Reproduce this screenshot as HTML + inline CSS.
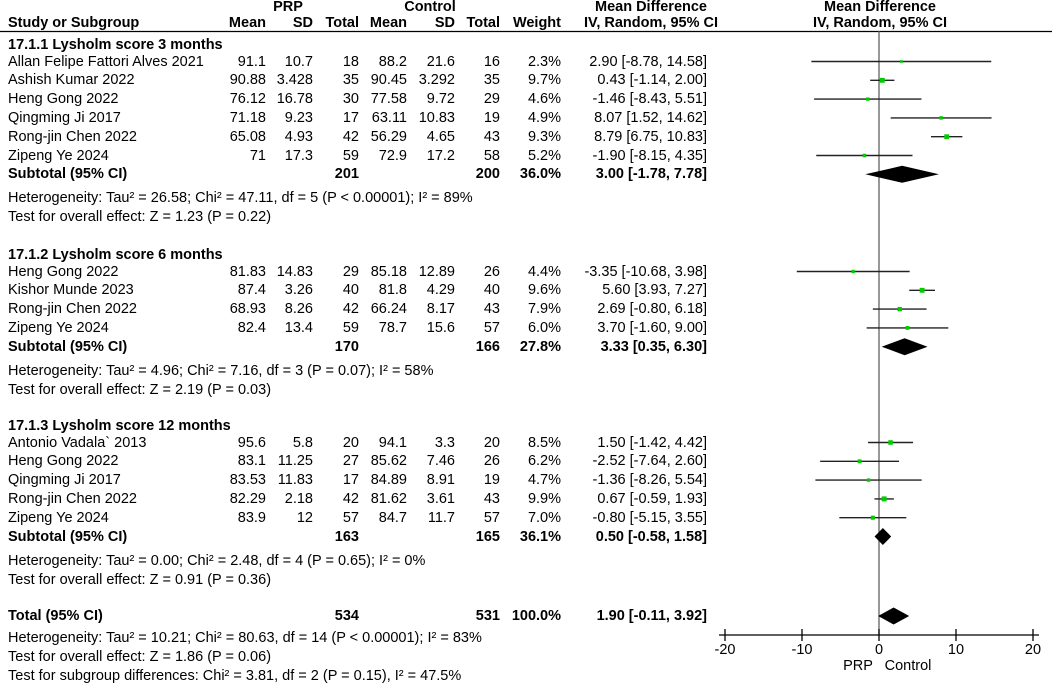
<!DOCTYPE html>
<html><head><meta charset="utf-8"><style>
body{margin:0;width:1052px;height:686px;background:#fff;overflow:hidden;font-family:"Liberation Sans",Arial,sans-serif;font-size:14.5px;color:#000}
#root{position:relative;width:1052px;height:686px}
.t{position:absolute;white-space:nowrap;line-height:16px}
.r{text-align:right}.c{text-align:center}.b{font-weight:bold}
svg{position:absolute;left:0;top:0}
</style></head><body>
<div id="root">
<svg id="plot" width="1052" height="686"></svg>
</div>
<script>
// ---- data ----
const studies=["Allan Felipe Fattori Alves 2021","Ashish Kumar 2022","Heng Gong 2022","Qingming Ji 2017","Rong-jin Chen 2022","Zipeng Ye 2024",
"Heng Gong 2022","Kishor Munde 2023","Rong-jin Chen 2022","Zipeng Ye 2024",
"Antonio Vadala` 2013","Heng Gong 2022","Qingming Ji 2017","Rong-jin Chen 2022","Zipeng Ye 2024"];
const groups=[0,0,0,0,0,0,1,1,1,1,2,2,2,2,2];
const prpMean=["91.1","90.88","76.12","71.18","65.08","71","81.83","87.4","68.93","82.4","95.6","83.1","83.53","82.29","83.9"];
const prpSD=["10.7","3.428","16.78","9.23","4.93","17.3","14.83","3.26","8.26","13.4","5.8","11.25","11.83","2.18","12"];
const prpN=["18","35","30","17","42","59","29","40","42","59","20","27","17","42","57"];
const ctlMean=["88.2","90.45","77.58","63.11","56.29","72.9","85.18","81.8","66.24","78.7","94.1","85.62","84.89","81.62","84.7"];
const ctlSD=["21.6","3.292","9.72","10.83","4.65","17.2","12.89","4.29","8.17","15.6","3.3","7.46","8.91","3.61","11.7"];
const ctlN=["16","35","29","19","43","58","26","40","43","57","20","26","19","43","57"];
const weights=[2.3,9.7,4.6,4.9,9.3,5.2,4.4,9.6,7.9,6.0,8.5,6.2,4.7,9.9,7.0];
const md=[2.90,0.43,-1.46,8.07,8.79,-1.90,-3.35,5.60,2.69,3.70,1.50,-2.52,-1.36,0.67,-0.80];
const lo=[-8.78,-1.14,-8.43,1.52,6.75,-8.15,-10.68,3.93,-0.80,-1.60,-1.42,-7.64,-8.26,-0.59,-5.15];
const hi=[14.58,2.00,5.51,14.62,10.83,4.35,3.98,7.27,6.18,9.00,4.42,2.60,5.54,1.93,3.55];
const groupTitles=["17.1.1 Lysholm score 3 months","17.1.2 Lysholm score 6 months","17.1.3 Lysholm score 12 months"];
const subN1=["201","170","163"], subN2=["200","166","165"], subW=["36.0%","27.8%","36.1%"];
const subMD=[3.00,3.33,0.50], subLo=[-1.78,0.35,-0.58], subHi=[7.78,6.30,1.58];
const hetText=["Heterogeneity: Tau² = 26.58; Chi² = 47.11, df = 5 (P < 0.00001); I² = 89%","Heterogeneity: Tau² = 4.96; Chi² = 7.16, df = 3 (P = 0.07); I² = 58%","Heterogeneity: Tau² = 0.00; Chi² = 2.48, df = 4 (P = 0.65); I² = 0%"];
const effText=["Test for overall effect: Z = 1.23 (P = 0.22)","Test for overall effect: Z = 2.19 (P = 0.03)","Test for overall effect: Z = 0.91 (P = 0.36)"];
const totMD=1.90, totLo=-0.11, totHi=3.92;
const ticks=[-20,-10,0,10,20];

// ---- layout ----
const root=document.getElementById('root'), svg=document.getElementById('plot');
const NS='http://www.w3.org/2000/svg';
const X=v=>879+v*7.7;
const fmt=v=>v.toFixed(2);
const C={pm:266,ps:313,pn:359,cm:407,cs:455,cn:500,w:561,ci:707};
function txt(s,x,y,cls,name,w){const d=document.createElement('div');d.className='t '+(cls||'');d.textContent=s;
 
 
 d.style.top=(y-8)+'px';
 if(cls&&cls.includes('r')){d.style.left=(x-w)+'px';d.style.width=w+'px';}
 else if(cls&&cls.includes('c')){d.style.left=(x-w/2)+'px';d.style.width=w+'px';}
 else d.style.left=x+'px';
 root.appendChild(d);}
function el(tag,attrs,name){const e=document.createElementNS(NS,tag);for(const k in attrs)e.setAttribute(k,attrs[k]);
 
 
 svg.appendChild(e);return e;}
// headers
txt("PRP",288,7,'c b','prp-header',60);
txt("Control",430,7,'c b','control-header',80);
txt("Mean Difference",651,7,'c b','md-header-left',180);
txt("Mean Difference",880,7,'c b','md-header-right',180);
const hy=23;
txt("Study or Subgroup",8,hy,'b','study-col-header');
txt("Mean",C.pm,hy,'r b','prp-mean-header',50);
txt("SD",C.ps,hy,'r b','prp-sd-header',40);
txt("Total",C.pn,hy,'r b','prp-total-header',45);
txt("Mean",C.cm,hy,'r b','ctl-mean-header',50);
txt("SD",C.cs,hy,'r b','ctl-sd-header',40);
txt("Total",C.cn,hy,'r b','ctl-total-header',45);
txt("Weight",C.w,hy,'r b','weight-header',60);
txt("IV, Random, 95% CI",651,hy,'c b','ci-header-left',180);
txt("IV, Random, 95% CI",880,hy,'c b','ci-header-right',180);
el('line',{x1:0,y1:31.5,x2:1052,y2:31.5,stroke:'#000','stroke-width':1.2},'header-rule');
el('line',{x1:879,y1:31,x2:879,y2:635,stroke:'#555','stroke-width':1.2},'zero-line');
const groupStart=[45,255,426];
function diamond(m,l,h,y,name){const hh=8.5;el('polygon',{points:`${X(l)},${y} ${X(m)},${y-hh} ${X(h)},${y} ${X(m)},${y+hh}`,fill:'#000'},name);}
let idx=0;
for(let g=0;g<3;g++){
 let y=groupStart[g];
 txt(groupTitles[g],8,y,'b','group-title-'+(g+1));
 y+=16.5;
 while(idx<studies.length&&groups[idx]===g){
  const i=idx;
  txt(studies[i],8,y,'','study-name');
  txt(prpMean[i],C.pm,y,'r','prp-mean',55);txt(prpSD[i],C.ps,y,'r','prp-sd',45);txt(prpN[i],C.pn,y,'r','prp-total',40);
  txt(ctlMean[i],C.cm,y,'r','ctl-mean',55);txt(ctlSD[i],C.cs,y,'r','ctl-sd',45);txt(ctlN[i],C.cn,y,'r','ctl-total',40);
  txt(weights[i].toFixed(1)+'%',C.w,y,'r','weight',60);
  txt(fmt(md[i])+' ['+fmt(lo[i])+', '+fmt(hi[i])+']',C.ci,y,'r','md-ci-text',180);
  el('line',{x1:X(lo[i]),y1:y,x2:X(hi[i]),y2:y,stroke:'#222','stroke-width':1.4},'ci-line');
  const s=2+weights[i]*0.3;
  el('rect',{x:X(md[i])-s/2,y:y-s/2,width:s,height:s,fill:'#00cc00'},'study-square');
  y+=18.8;idx++;
 }
 txt("Subtotal (95% CI)",8,y,'b','subtotal-label');
 txt(subN1[g],C.pn,y,'r b','subtotal-prp-n',40);txt(subN2[g],C.cn,y,'r b','subtotal-ctl-n',40);
 txt(subW[g],C.w,y,'r b','subtotal-weight',60);
 txt(fmt(subMD[g])+' ['+fmt(subLo[g])+', '+fmt(subHi[g])+']',C.ci,y,'r b','subtotal-ci',190);
 diamond(subMD[g],subLo[g],subHi[g],y,'subtotal-diamond');
 txt(hetText[g],8,y+24,'','heterogeneity-text');
 txt(effText[g],8,y+43,'','overall-effect-text');
}
const ty=616;
txt("Total (95% CI)",8,ty,'b','total-label');
txt("534",C.pn,ty,'r b','total-prp-n',40);txt("531",C.cn,ty,'r b','total-ctl-n',40);
txt("100.0%",C.w,ty,'r b','total-weight',60);
txt(fmt(totMD)+' ['+fmt(totLo)+', '+fmt(totHi)+']',C.ci,ty,'r b','total-ci',190);
diamond(totMD,totLo,totHi,ty,'total-diamond');
txt("Heterogeneity: Tau² = 10.21; Chi² = 80.63, df = 14 (P < 0.00001); I² = 83%",8,638,'','total-heterogeneity');
txt("Test for overall effect: Z = 1.86 (P = 0.06)",8,657,'','total-overall-effect');
txt("Test for subgroup differences: Chi² = 3.81, df = 2 (P = 0.15), I² = 47.5%",8,676,'','subgroup-differences');
// axis
el('line',{x1:719,y1:635,x2:1039,y2:635,stroke:'#000','stroke-width':1.3},'x-axis');
ticks.forEach(t=>{el('line',{x1:X(t),y1:629,x2:X(t),y2:641,stroke:'#000','stroke-width':1.3},'x-tick');
 txt(String(t),X(t),650,'c','x-tick-label',40);});
txt("PRP",858,666,'c','favours-prp-label',40);
txt("Control",908,666,'c','favours-control-label',70);
</script>
</body></html>
